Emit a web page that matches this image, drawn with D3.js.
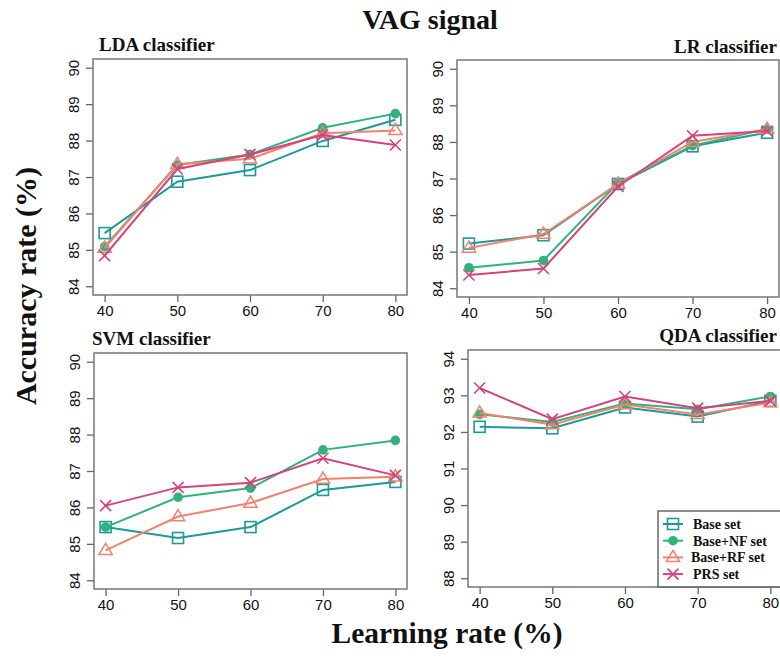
<!DOCTYPE html>
<html><head><meta charset="utf-8">
<script src="https://cdn.jsdelivr.net/npm/d3@7"></script>
<style>body{margin:0;background:#fff}svg{display:block}</style>
</head><body><svg id="c" width="780" height="659"></svg>
<script>
const learningRates = [40, 50, 60, 70, 80];
const seriesNames = ["Base set", "Base+NF set", "Base+RF set", "PRS set"];
const seriesColors = ["#1b9a97", "#2fb27c", "#f2826e", "#d5437c"];
const seriesSymbols = ["square", "circle", "triangle", "cross"];

const ldaBase = [85.46, 86.87, 87.19, 87.99, 88.57];
const ldaNF   = [85.09, 87.33, 87.62, 88.35, 88.74];
const ldaRF   = [85.05, 87.35, 87.50, 88.20, 88.28];
const ldaPRS  = [84.84, 87.22, 87.62, 88.15, 87.88];

const lrBase = [85.22, 85.45, 86.85, 87.88, 88.25];
const lrNF   = [84.56, 84.76, 86.88, 87.90, 88.35];
const lrRF   = [85.10, 85.48, 86.85, 88.00, 88.35];
const lrPRS  = [84.36, 84.54, 86.78, 88.17, 88.30];

const svmBase = [85.46, 85.16, 85.46, 86.48, 86.70];
const svmNF   = [85.46, 86.28, 86.53, 87.58, 87.84];
const svmRF   = [84.82, 85.75, 86.12, 86.78, 86.84];
const svmPRS  = [86.05, 86.55, 86.68, 87.35, 86.88];

const qdaBase = [92.14, 92.10, 92.67, 92.42, 92.85];
const qdaNF   = [92.48, 92.27, 92.78, 92.62, 92.97];
const qdaRF   = [92.52, 92.20, 92.75, 92.48, 92.80];
const qdaPRS  = [93.20, 92.35, 92.97, 92.65, 92.85];

const ldaTicks = [84, 85, 86, 87, 88, 89, 90];
const qdaTicks = [88, 89, 90, 91, 92, 93, 94];

const panels = [
  {title:"LDA classifier", align:"start", tx:99, ty:51, box:[93,59,407,295], ticks:ldaTicks, series:[ldaBase,ldaNF,ldaRF,ldaPRS]},
  {title:"LR classifier", align:"end", tx:777, ty:53, box:[457,60,779,297], ticks:ldaTicks, series:[lrBase,lrNF,lrRF,lrPRS]},
  {title:"SVM classifier", align:"start", tx:92, ty:345, box:[94,353,407,589], ticks:ldaTicks, series:[svmBase,svmNF,svmRF,svmPRS]},
  {title:"QDA classifier", align:"end", tx:777, ty:342, box:[468,350,782,587], ticks:qdaTicks, series:[qdaBase,qdaNF,qdaRF,qdaPRS], legend:true}
];

const svg = d3.select("#c");
const serif = "'Liberation Serif','Times New Roman',serif";
const sans = "'Liberation Sans',Arial,sans-serif";

function drawSymbol(g, type, x, y, color) {
  if (type === "square") {
    g.append("rect").attr("x", x-5.5).attr("y", y-5.5).attr("width", 11).attr("height", 11)
      .attr("fill", "none").attr("stroke", color).attr("stroke-width", 1.6);
  } else if (type === "circle") {
    g.append("circle").attr("cx", x).attr("cy", y).attr("r", 4.8).attr("fill", color);
  } else if (type === "triangle") {
    const s = 7;
    g.append("path").attr("d", `M${x},${y-s}L${x+s*0.95},${y+s*0.6}L${x-s*0.95},${y+s*0.6}Z`)
      .attr("fill", "none").attr("stroke", color).attr("stroke-width", 1.5);
  } else {
    const s = 5.5;
    g.append("path").attr("d", `M${x-s},${y-s}L${x+s},${y+s}M${x-s},${y+s}L${x+s},${y-s}`)
      .attr("fill", "none").attr("stroke", color).attr("stroke-width", 1.6);
  }
}

panels.forEach(p => {
  const [x0, y0, x1, y1] = p.box;
  const lo = p.ticks[0], hi = p.ticks[p.ticks.length-1];
  const pad = (hi - lo) * 0.04;
  const x = d3.scaleLinear().domain([40 - 1.6, 80 + 1.6]).range([x0, x1]);
  const y = d3.scaleLinear().domain([lo - pad, hi + pad]).range([y1, y0]);
  const g = svg.append("g");

  const xa = g.append("g").attr("transform", `translate(0,${y1})`)
    .call(d3.axisBottom(x).tickValues(learningRates).tickFormat(d3.format("d"))
      .tickSize(7).tickPadding(3).tickSizeOuter(0));
  xa.select(".domain").remove();
  xa.selectAll("line").attr("stroke", "#666").attr("stroke-width", 1.3);
  xa.selectAll("text").attr("font-family", sans).attr("font-size", 15).attr("fill", "#111");

  const ya = g.append("g").attr("transform", `translate(${x0},0)`)
    .call(d3.axisLeft(y).tickValues(p.ticks).tickFormat(d3.format("d"))
      .tickSize(7).tickSizeOuter(0).tickPadding(0));
  ya.select(".domain").remove();
  ya.selectAll("line").attr("stroke", "#666").attr("stroke-width", 1.3);
  ya.selectAll("text").attr("font-family", sans).attr("font-size", 15).attr("fill", "#111")
    .attr("text-anchor", "middle").attr("x", 0).attr("dy", null)
    .attr("transform", "translate(-20,0) rotate(-90)").attr("dominant-baseline", "central");

  g.append("rect").attr("x", x0).attr("y", y0).attr("width", x1-x0).attr("height", y1-y0)
    .attr("fill", "none").attr("stroke", "#777").attr("stroke-width", 1.5);

  p.series.forEach((vals, si) => {
    const col = seriesColors[si];
    const line = d3.line().x((d, i) => x(learningRates[i])).y(d => y(d));
    g.append("path").datum(vals).attr("d", line).attr("fill", "none")
      .attr("stroke", col).attr("stroke-width", 2);
    vals.forEach((v, i) => drawSymbol(g, seriesSymbols[si], x(learningRates[i]), y(v), col));
  });

  g.append("text").attr("x", p.tx).attr("y", p.ty).attr("text-anchor", p.align)
    .attr("font-family", serif).attr("font-weight", "bold").attr("font-size", 19).attr("fill", "#111")
    .text(p.title);

  if (p.legend) {
    const lx = 658, ly = 511;
    g.append("rect").attr("x", lx).attr("y", ly).attr("width", 140).attr("height", y1 - ly)
      .attr("fill", "#fff").attr("stroke", "#444").attr("stroke-width", 1.2);
    seriesNames.forEach((name, si) => {
      const yy = 524 + si * 16.7;
      const col = seriesColors[si];
      g.append("line").attr("x1", 663).attr("x2", 683).attr("y1", yy).attr("y2", yy)
        .attr("stroke", col).attr("stroke-width", 2);
      drawSymbol(g, seriesSymbols[si], 673, yy, col);
      g.append("text").attr("x", si === 2 ? 691 : 693).attr("y", yy).attr("dy", "0.35em")
        .attr("font-family", serif).attr("font-weight", "bold").attr("font-size", 14).attr("fill", "#111")
        .text(name);
    });
    g.append("line").attr("x1", lx).attr("x2", 782).attr("y1", y1).attr("y2", y1)
      .attr("stroke", "#777").attr("stroke-width", 1.5);
  }
});

svg.append("text").attr("x", 430).attr("y", 29).attr("text-anchor", "middle")
  .attr("font-family", serif).attr("font-weight", "bold").attr("font-size", 28).attr("fill", "#111")
  .text("VAG signal");
svg.append("text").attr("x", 447).attr("y", 643).attr("text-anchor", "middle")
  .attr("font-family", serif).attr("font-weight", "bold").attr("font-size", 29.5).attr("fill", "#111")
  .text("Learning rate (%)");
svg.append("text").attr("transform", "translate(36,286) rotate(-90)").attr("text-anchor", "middle")
  .attr("font-family", serif).attr("font-weight", "bold").attr("font-size", 30).attr("fill", "#111")
  .text("Accuracy rate (%)");
</script></body></html>
